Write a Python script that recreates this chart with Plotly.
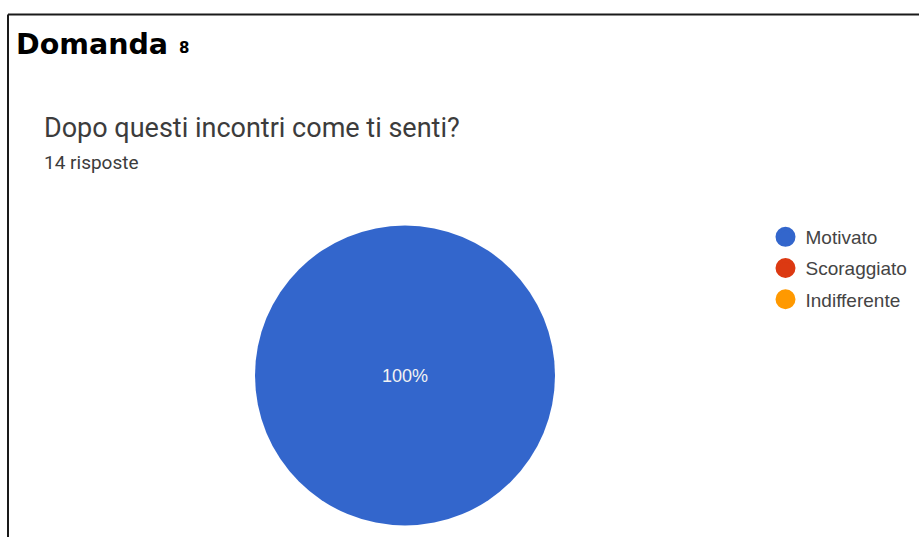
import plotly.graph_objects as go

# Survey answers for question 8
labels = ["Motivato", "Scoraggiato", "Indifferente"]
counts = [14, 0, 0]
colors = ["#3366cc", "#dc3912", "#ff9900"]

question = "Dopo questi incontri come ti senti?"
responses = "14 risposte"
heading = "Domanda"
heading_num = "8"

W, H = 919, 537

fig = go.Figure()

fig.add_trace(go.Pie(
    labels=labels,
    values=counts,
    marker=dict(colors=colors, line=dict(width=0)),
    sort=False,
    direction="clockwise",
    textinfo="percent",
    textposition="inside",
    insidetextfont=dict(family="Liberation Sans, Arial", size=18, color="#f2f2f2"),
    showlegend=False,
    domain=dict(x=[255 / W, 555 / W], y=[1 - 525.5 / H, 1 - 225.5 / H]),
))

# Legend entries with round swatches
for i, (lab, col) in enumerate(zip(labels, colors)):
    fig.add_trace(go.Scatter(
        x=[None], y=[None], mode="markers", name=lab,
        legendgroup=lab,
        marker=dict(symbol="circle", size=16, color=col, line=dict(color=col, width=4)),
        showlegend=True,
    ))

fig.update_layout(
    width=W, height=H,
    margin=dict(l=0, r=0, t=0, b=0),
    paper_bgcolor="white", plot_bgcolor="white",
    xaxis=dict(visible=False), yaxis=dict(visible=False),
    legend=dict(
        x=765.5 / W, y=1 - 218 / H, xanchor="left", yanchor="top",
        font=dict(family="Liberation Sans, Arial", size=19, color="#444444"),
        itemsizing="trace", tracegroupgap=3.5, bgcolor="rgba(0,0,0,0)",
    ),
    shapes=[
        dict(type="line", xref="paper", yref="paper",
             x0=8 / W, x1=1, y0=1 - 14.5 / H, y1=1 - 14.5 / H,
             line=dict(color="#1a1a1a", width=2)),
        dict(type="line", xref="paper", yref="paper",
             x0=8 / W, x1=8 / W, y0=0, y1=1 - 14.5 / H,
             line=dict(color="#1a1a1a", width=2)),
    ],
    annotations=[
        dict(text=heading, x=14 / W, y=1 - 44 / H, xref="paper", yref="paper",
             xanchor="left", yanchor="middle", showarrow=False,
             font=dict(family="DejaVu Sans", size=28.5, color="#000000", weight="bold")),
        dict(text=heading_num, x=177 / W, y=1 - 48.5 / H, xref="paper", yref="paper",
             xanchor="left", yanchor="middle", showarrow=False,
             font=dict(family="DejaVu Sans", size=15, color="#000000", weight="bold")),
        dict(text=question, x=42 / W, y=1 - 128 / H, xref="paper", yref="paper",
             xanchor="left", yanchor="middle", showarrow=False,
             font=dict(family="Roboto", size=27, color="#3c3c3c")),
        dict(text=responses, x=42 / W, y=1 - 162 / H, xref="paper", yref="paper",
             xanchor="left", yanchor="middle", showarrow=False,
             font=dict(family="Roboto", size=19, color="#3c3c3c")),
    ],
)

fig.write_html("out.html")
